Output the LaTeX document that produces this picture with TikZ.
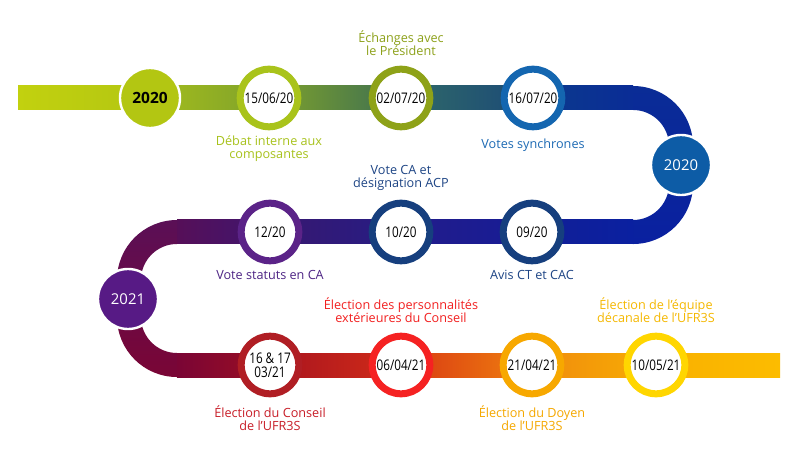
\documentclass[tikz,border=0pt]{standalone}
\usepackage{fontspec}
\setmainfont{Open Sans}
\newfontfamily\datefont[FakeStretch=0.8]{Open Sans}
\usepackage{tikz}
\usetikzlibrary{positioning}

\definecolor{limering}{HTML}{A9C31B}
\definecolor{oliverring}{HTML}{8EA218}
\definecolor{bluering}{HTML}{1466B0}
\definecolor{navyring}{HTML}{163F7E}
\definecolor{purplering}{HTML}{5B2388}
\definecolor{darkredring}{HTML}{B01E24}
\definecolor{redring}{HTML}{F52222}
\definecolor{orangering}{HTML}{F7A800}
\definecolor{yellowring}{HTML}{FFD600}
\definecolor{limeyear}{HTML}{B3C612}
\definecolor{blueyear}{HTML}{0D5CA6}
\definecolor{purpleyear}{HTML}{571A85}
\definecolor{limetext}{HTML}{A8C21C}
\definecolor{olivetext}{HTML}{8DA11A}
\definecolor{bluetext}{HTML}{1D6AB4}
\definecolor{navytext}{HTML}{1E4585}
\definecolor{purpletext}{HTML}{4E2585}
\definecolor{redtext}{HTML}{F22020}
\definecolor{darkredtext}{HTML}{C81E28}
\definecolor{orangetext}{HTML}{F5A800}
\definecolor{goldtext}{HTML}{F5B800}

\tikzset{
	ring/.style={circle, draw=#1, line width=1.75mm, fill=white, minimum size=14.4mm, inner sep=0pt, align=center, font=\datefont\fontsize{10.4}{10}\selectfont},
	year/.style={circle, draw=white, line width=0.6mm, fill=#1, minimum size=15mm, inner sep=0pt, text=white, font=\fontsize{10.6}{12}\selectfont},
	caption/.style={text=#1, align=center, inner sep=0pt, font=\fontsize{9}{9.6}\selectfont},
}

\begin{document}
\begin{tikzpicture}[x=0.025cm, y=0.025cm]

	\fill[white] (0,0) rectangle (800,467);
	\useasboundingbox (0,0) rectangle (800,467);

	% band, top row
	\shade[left color={rgb,255:red,194;green,209;blue,15}, right color=limeyear] (18,357) rectangle (150,381);
	\shade[left color={rgb,255:red,164;green,189;blue,28}, right color={rgb,255:red,126;green,161;blue,44}] (150,357) rectangle (270,381);
	\shade[left color={rgb,255:red,126;green,161;blue,44}, right color={rgb,255:red,61;green,111;blue,82}] (270,357) rectangle (401,381);
	\shade[left color={rgb,255:red,48;green,106;blue,104}, right color={rgb,255:red,27;green,73;blue,119}] (401,357) rectangle (532,381);
	\shade[left color={rgb,255:red,12;green,59;blue,140}, right color={rgb,255:red,10;green,44;blue,150}] (532,357) rectangle (633,381);

	% band, right turn
	\shade[top color={rgb,255:red,10;green,44;blue,150}, bottom color={rgb,255:red,10;green,32;blue,160}]
		(633,381) arc[start angle=90, end angle=0, radius=1.5cm] -- (693,283)
		arc[start angle=0, end angle=-90, radius=1.5cm] -- (633,247)
		arc[start angle=-90, end angle=0, radius=0.9cm] -- (669,321)
		arc[start angle=0, end angle=90, radius=0.9cm] -- cycle;

	% band, middle row
	\shade[left color={rgb,255:red,18;green,30;blue,150}, right color={rgb,255:red,10;green,32;blue,160}] (532,223) rectangle (633,247);
	\shade[left color={rgb,255:red,35;green,28;blue,138}, right color={rgb,255:red,22;green,28;blue,150}] (401,223) rectangle (532,247);
	\shade[left color={rgb,255:red,56;green,24;blue,111}, right color={rgb,255:red,38;green,28;blue,133}] (270,223) rectangle (401,247);
	\shade[left color={rgb,255:red,86;green,15;blue,88}, right color={rgb,255:red,62;green,22;blue,112}] (177,223) rectangle (270,247);

	% band, left turn
	\shade[top color={rgb,255:red,90;green,15;blue,86}, bottom color={rgb,255:red,122;green,5;blue,53}]
		(177,247) arc[start angle=90, end angle=180, radius=1.5cm] -- (117,150)
		arc[start angle=180, end angle=270, radius=1.5cm] -- (177,114)
		arc[start angle=270, end angle=180, radius=0.9cm] -- (141,187)
		arc[start angle=180, end angle=90, radius=0.9cm] -- cycle;

	% band, bottom row
	\shade[left color={rgb,255:red,122;green,5;blue,53}, right color={rgb,255:red,156;green,14;blue,34}] (177,90) rectangle (270,114);
	\shade[left color={rgb,255:red,168;green,20;blue,31}, right color={rgb,255:red,210;green,44;blue,24}] (270,90) rectangle (401,114);
	\shade[left color={rgb,255:red,216;green,56;blue,20}, right color={rgb,255:red,240;green,128;blue,14}] (401,90) rectangle (532,114);
	\shade[left color={rgb,255:red,240;green,138;blue,14}, right color={rgb,255:red,248;green,174;blue,2}] (532,90) rectangle (656,114);
	\shade[left color={rgb,255:red,249;green,176;blue,0}, right color={rgb,255:red,252;green,188;blue,0}] (656,90) rectangle (780,114);

	% years
	\node[year=limeyear, text=black, font=\bfseries\fontsize{11}{12}\selectfont]	(y2020a)	at (150,369)	{2020};
	\node[year=blueyear]		(y2020b)	at (681,302)	{2020};
	\node[year=purpleyear]		(y2021)		at (128,168)	{2021};

	% dates
	\node[ring=limering]		(d1)	at (269,369)	{15/06/20};
	\node[ring=oliverring]		(d2)	at (401,369)	{02/07/20};
	\node[ring=bluering]		(d3)	at (533,369)	{16/07/20};
	\node[ring=navyring]		(d4)	at (532,235)	{09/20};
	\node[ring=navyring]		(d5)	at (401,235)	{10/20};
	\node[ring=purplering]		(d6)	at (270,235)	{12/20};
	\node[ring=darkredring]		(d7)	at (270,102)	{16 \& 17\\03/21};
	\node[ring=redring]			(d8)	at (401,102)	{06/04/21};
	\node[ring=orangering]		(d9)	at (532,102)	{21/04/21};
	\node[ring=yellowring]		(d10)	at (656,102)	{10/05/21};

	% captions
	\node[caption=limetext, below=1.3mm of d1]		(c1)	{Débat interne aux\\composantes};
	\node[caption=olivetext, above=2.4mm of d2]		(c2)	{Échanges avec\\le Président};
	\node[caption=bluetext, below=2mm of d3]		(c3)	{Votes synchrones};
	\node[caption=navytext, below=1.5mm of d4]		(c4)	{Avis CT et CAC};
	\node[caption=navytext, above=2.2mm of d5]		(c5)	{Vote CA et\\désignation ACP};
	\node[caption=purpletext, below=1.5mm of d6]	(c6)	{Vote statuts en CA};
	\node[caption=darkredtext, below=2mm of d7]		(c7)	{Élection du Conseil\\de l’UFR3S};
	\node[caption=redtext, above=2.4mm of d8]		(c8)	{Élection des personnalités\\extérieures du Conseil};
	\node[caption=orangetext, below=2mm of d9]		(c9)	{Élection du Doyen\\de l’UFR3S};
	\node[caption=goldtext, above=2.4mm of d10]		(c10)	{Élection de l’équipe\\décanale de l’UFR3S};

\end{tikzpicture}
\end{document}
